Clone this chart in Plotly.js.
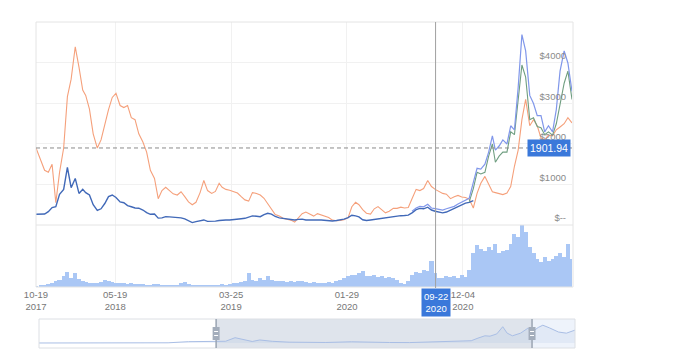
<!DOCTYPE html>
<html><head><meta charset="utf-8">
<script src="https://cdn.plot.ly/plotly-3.0.1.min.js"></script>
<style>html,body{margin:0;padding:0;background:#fff;}#chart{width:679px;height:354px;}</style>
</head><body><div id="chart"></div>
<script>
// ---- data ----
const dates = [
'2017-10-19','2017-11-01','2017-11-11','2017-11-21','2017-12-01','2017-12-11','2017-12-21',
'2018-01-01','2018-01-11','2018-01-21','2018-02-01','2018-02-11','2018-02-21','2018-03-01','2018-03-11','2018-03-21','2018-04-01','2018-04-11','2018-04-21',
'2018-05-01','2018-05-11','2018-05-21','2018-06-01','2018-06-11','2018-06-21','2018-07-01','2018-07-11','2018-07-21','2018-08-01','2018-08-11','2018-08-21',
'2018-09-01','2018-09-11','2018-09-21','2018-10-01','2018-10-11','2018-10-21','2018-11-01','2018-11-11','2018-11-21','2018-12-01','2018-12-11','2018-12-21',
'2019-01-01','2019-01-11','2019-01-21','2019-02-01','2019-02-11','2019-02-21','2019-03-01','2019-03-11','2019-03-21','2019-04-01','2019-04-11','2019-04-21',
'2019-05-01','2019-05-11','2019-05-21','2019-06-01','2019-06-11','2019-06-21','2019-07-01','2019-07-11','2019-07-21','2019-08-01','2019-08-11','2019-08-21',
'2019-09-01','2019-09-11','2019-09-21','2019-10-01','2019-10-11','2019-10-21','2019-11-01','2019-11-11','2019-11-21','2019-12-01','2019-12-11','2019-12-21',
'2020-01-01','2020-01-11','2020-01-21','2020-02-01','2020-02-11','2020-02-21','2020-03-01','2020-03-11','2020-03-21','2020-04-01','2020-04-11','2020-04-21',
'2020-05-01','2020-05-11','2020-05-21','2020-06-01','2020-06-11','2020-06-21','2020-07-01','2020-07-11','2020-07-21','2020-08-01','2020-08-11','2020-08-21',
'2020-09-01','2020-09-11','2020-09-21','2020-10-01','2020-10-11','2020-10-21','2020-11-01','2020-11-11','2020-11-21','2020-12-01','2020-12-11','2020-12-21',
'2021-01-01','2021-01-11','2021-01-21','2021-02-01','2021-02-11','2021-02-21','2021-03-01','2021-03-11','2021-03-21','2021-04-01','2021-04-11','2021-04-21',
'2021-05-01','2021-05-11','2021-05-21','2021-06-01','2021-06-11','2021-06-21','2021-07-01','2021-07-11','2021-07-21','2021-08-01','2021-08-11','2021-08-21',
'2021-09-01','2021-09-11','2021-09-22'
];

const orangeSeries = [
1900,1600,1350,1300,1500,550,1300,
1900,3170,3600,4400,3900,3330,3200,2860,2250,1900,2100,2500,2850,3150,3250,2950,2900,2950,2650,2600,2250,2050,1800,1350,1150,650,850,930,850,770,740,820,700,570,500,560,
800,1100,850,780,830,1030,930,880,860,830,790,700,620,590,800,780,740,660,520,380,260,220,165,140,120,70,170,280,320,270,220,280,250,210,185,120,
105,110,130,180,450,560,500,380,290,270,400,455,380,300,340,410,410,440,420,430,650,880,850,900,1100,950,880,820,780,760,650,700,730,690,680,640,
420,780,1030,1200,1000,820,800,780,750,790,950,1450,1850,2600,3100,2450,2600,2450,2150,2100,2220,2200,2350,2420,2500,2650,2520
];

const mainSeries = [
264,260,270,330,430,450,760,
880,1420,920,1150,780,880,800,740,500,360,400,530,700,740,680,570,550,480,450,420,415,370,305,265,270,170,175,205,200,195,190,175,150,110,60,85,
110,125,90,85,95,110,120,125,125,130,145,155,165,190,225,215,205,255,290,270,210,175,165,155,140,125,140,145,125,130,125,125,125,115,110,100,
110,125,145,180,240,225,200,130,110,125,140,150,160,170,190,215,225,230,235,245,300,380,410,400,440,370,340,320,300,320,370,400,460,495,540,560,
600
];

const lightStart = '2020-07-21';
const lightSeries = [
340,420,460,450,510,420,405,380,370,400,430,460,520,570,610,660,
1050,1400,1380,1500,1800,2200,1850,1950,2100,2000,2450,2350,3400,4700,4300,3200,3000,2700,2700,2300,2450,2300,2850,3800,4300,4000,3300
];

const greenStart = '2020-12-21';
const greenSeries = [
570,
900,1300,1260,1300,1700,2000,1550,1700,1800,1800,2300,2230,3150,3950,3650,2600,2650,2430,2400,2230,2300,2220,2500,3000,3500,3800,3100
];

const volume = [
2,3,3,5,6,10,12,
18,25,15,22,13,9,8,7,7,6,8,12,10,8,7,6,6,5,6,5,5,5,4,4,5,5,4,4,4,4,4,6,8,5,4,3,
3,3,3,3,4,4,5,4,5,7,6,8,10,22,12,10,15,12,18,12,9,10,9,8,9,8,10,9,8,7,8,7,6,7,8,7,
9,12,15,18,20,19,22,26,18,17,19,16,18,15,16,15,12,6,5,10,20,24,22,28,26,42,22,14,15,17,16,18,15,20,16,28,
55,68,62,58,65,60,70,55,58,60,70,85,80,100,88,65,55,45,40,48,42,45,50,55,48,70,45
];

const tickDates = ['2017-10-19','2018-05-19','2019-03-25','2020-01-29','2020-12-04','2021-09-22'];
const tickText  = ['10-19<br>2017','05-19<br>2018','03-25<br>2019','01-29<br>2020','12-04<br>2020','09-22<br>2021'];
const priceTicks = [0,1000,2000,3000,4000];
const priceTickText = ['$--','$1000','$2000','$3000','$4000'];
const lastPrice = 1901.94;
const crossDate = '2020-09-22';
const crossLabel = '09-22<br>2020';

const navDates = ['2015-08-07','2016-01-01','2016-06-15','2017-01-01','2017-03-15','2017-06-15','2017-09-01','2017-10-19','2017-12-01','2018-01-13',
'2018-02-15','2018-04-01','2018-05-05','2018-07-01','2018-09-15','2018-12-15','2019-03-01','2019-06-25','2019-09-01','2019-12-15','2020-03-15',
'2020-06-01','2020-09-01','2020-11-01','2020-12-20','2021-01-20','2021-02-20','2021-03-15','2021-04-15','2021-05-12','2021-06-01','2021-06-25',
'2021-08-01','2021-09-03','2021-09-22','2021-10-20','2021-11-10','2021-12-10','2022-01-20','2022-02-25','2022-04-05'];
const navValues = [3,1,14,8,50,350,380,300,460,1400,900,400,800,450,220,90,135,320,170,130,110,240,440,390,600,1300,1900,1800,2400,4300,2600,1900,
2600,3900,2900,4100,4700,4000,2900,2600,3400];
const navStart = '2015-08-07', navEnd = '2022-04-05';
const viewStart = '2017-10-19', viewEnd = '2021-09-22';

// ---- layout helpers (pixel -> paper) ----
const W = 679, H = 354;
const fx = x => x / W, fy = y => 1 - y / H;
const FONT = 'Liberation Sans, Arial, sans-serif';
const BLUE_LABEL = '#3a78da';

const idx = d => dates.indexOf(d);

const traces = [
  {type:'bar', x:dates, y:volume, xaxis:'x', yaxis:'y2', marker:{color:'#aac7f5', line:{width:0}}, width:11*86400000, hoverinfo:'skip'},
  {type:'scatter', mode:'lines', x:dates, y:orangeSeries, xaxis:'x', yaxis:'y', line:{color:'#f5a07b', width:1.1}},
  {type:'scatter', mode:'lines', x:dates.slice(0, mainSeries.length), y:mainSeries, xaxis:'x', yaxis:'y', line:{color:'#4169b8', width:1.4}},
  {type:'scatter', mode:'lines', x:dates.slice(idx(greenStart)), y:greenSeries, xaxis:'x', yaxis:'y', line:{color:'#6f9e80', width:1.1}},
  {type:'scatter', mode:'lines', x:dates.slice(idx(lightStart)), y:lightSeries, xaxis:'x', yaxis:'y', line:{color:'#8097ea', width:1.2}},
  {type:'scatter', mode:'lines', x:navDates, y:navValues, xaxis:'x3', yaxis:'y3', line:{color:'#a9bee5', width:1}, fill:'tozeroy', fillcolor:'rgba(169,190,229,0.18)'}
];

const shapes = [
  // navigator regions
  {type:'rect', xref:'x3', yref:'paper', x0:viewStart, x1:viewEnd, y0:fy(348), y1:fy(319), fillcolor:'#dfe4ec', line:{width:0}, layer:'below'},
  {type:'rect', xref:'x3', yref:'paper', x0:viewEnd, x1:navEnd, y0:fy(348), y1:fy(319), fillcolor:'#eef3fb', line:{width:0}, layer:'below'},
  {type:'rect', xref:'paper', yref:'paper', x0:fx(39), x1:fx(575), y0:fy(348), y1:fy(319), line:{color:'#dcdfe4', width:1}},
  // main frame
  {type:'rect', xref:'paper', yref:'paper', x0:fx(36), x1:fx(573), y0:fy(287), y1:fy(22), line:{color:'#e4e4e4', width:1}},
  {type:'line', xref:'paper', yref:'paper', x0:fx(36), x1:fx(573), y0:fy(225), y1:fy(225), line:{color:'#e4e4e4', width:1}},
  // last price dashed line
  {type:'line', xref:'paper', yref:'y', x0:fx(36), x1:fx(573), y0:lastPrice, y1:lastPrice, line:{color:'#8a8a8a', width:1, dash:'4px,3px'}},
  // crosshair
  {type:'line', xref:'x', yref:'paper', x0:crossDate, x1:crossDate, y0:fy(288), y1:fy(22), line:{color:'#a0a0a0', width:1}}
];
[viewStart, viewEnd].forEach(d => {
  shapes.push({type:'line', xref:'x3', yref:'paper', x0:d, x1:d, y0:fy(348), y1:fy(319), line:{color:'#9aa4b2', width:1.5}});
  shapes.push({type:'rect', xref:'x3', xsizemode:'pixel', xanchor:d, x0:-3.5, x1:3.5, yref:'paper', y0:fy(340), y1:fy(327), fillcolor:'#a3adbb', line:{width:0}});
  [331.5, 335.5].forEach(yy => shapes.push({type:'line', xref:'x3', xsizemode:'pixel', xanchor:d, x0:-2, x1:2, yref:'paper', y0:fy(yy), y1:fy(yy), line:{color:'#ffffff', width:1}}));
});

const annotations = [
  {xref:'paper', yref:'y', x:fx(548.5), y:lastPrice, text:lastPrice.toFixed(2), showarrow:false, xanchor:'center', yanchor:'middle',
   font:{family:FONT, size:10.5, color:'#ffffff'}, bgcolor:BLUE_LABEL, borderpad:2},
  {xref:'x', yref:'paper', x:crossDate, y:fy(302), text:crossLabel, showarrow:false, xanchor:'center', yanchor:'middle',
   font:{family:FONT, size:9.5, color:'#ffffff'}, bgcolor:BLUE_LABEL, borderpad:2}
];

const layout = {
  width:W, height:H, margin:{l:0, r:0, t:0, b:0}, paper_bgcolor:'#ffffff', plot_bgcolor:'rgba(0,0,0,0)',
  showlegend:false, hovermode:false, bargap:0,
  font:{family:FONT, size:9.5, color:'#777'},
  xaxis:{domain:[fx(36), fx(572)], anchor:'y2', type:'date', range:[viewStart, viewEnd], tickmode:'array', tickvals:tickDates, ticktext:tickText,
         ticks:'', showgrid:true, gridcolor:'#f1f1f1', gridwidth:1, zeroline:false, showline:false, tickfont:{family:FONT, size:9.5, color:'#777'}},
  yaxis:{domain:[fy(225), fy(22)], anchor:'x', side:'right', range:[0, 5012], tickmode:'array', tickvals:priceTicks, ticktext:priceTickText,
         ticklabelposition:'inside', ticklabelshift:-7, ticklabelstandoff:3, ticks:'', showgrid:true, gridcolor:'#f1f1f1', zeroline:false, showline:false,
         tickfont:{family:FONT, size:9.5, color:'#8a8a8a'}},
  yaxis2:{domain:[fy(287), fy(225)], anchor:'x', range:[0, 100], showgrid:false, showticklabels:false, zeroline:false, showline:false, ticks:''},
  xaxis3:{domain:[fx(39), fx(575)], anchor:'y3', type:'date', range:[navStart, navEnd], visible:false},
  yaxis3:{domain:[fy(348), fy(319)], anchor:'x3', range:[-1320, 6340], visible:false},
  shapes:shapes, annotations:annotations
};

Plotly.newPlot('chart', traces, layout, {staticPlot:true, displayModeBar:false});
</script>
</body></html>
